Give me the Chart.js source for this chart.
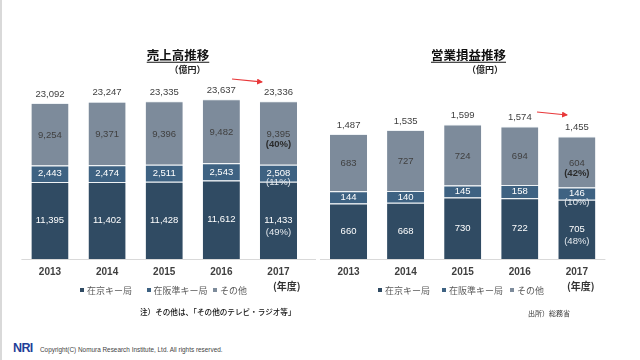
<!DOCTYPE html>
<html><head><meta charset="utf-8">
<script src="https://cdn.jsdelivr.net/npm/chart.js@4"></script>
<style>
html,body{margin:0;padding:0;background:#fff;}
#wrap{position:relative;width:640px;height:360px;overflow:hidden;background:#fff;}
canvas{position:absolute;top:0;}
.t{position:absolute;transform:translate(-50%,-50%);white-space:nowrap;line-height:1;}
.l{position:absolute;transform:translateY(-50%);white-space:nowrap;line-height:1;}
.jp{font-family:"Noto Sans CJK JP","Noto Sans",sans-serif;}
.sq{position:absolute;width:4px;height:4px;transform:translateY(-50%);}
</style></head>
<body><div id="wrap">
<div style="position:absolute;left:0;top:0;width:2px;height:360px;background:#d9d9d9;"></div>
<canvas id="c1" width="320" height="290" style="left:0"></canvas>
<canvas id="c2" width="320" height="290" style="left:320px"></canvas>

<div class="t jp" style="left:178px;top:55px;font-size:12.5px;font-weight:bold;color:#111;text-decoration:underline;text-underline-offset:2px;">売上高推移</div>
<div class="t jp" style="left:187.5px;top:69px;font-size:9px;font-weight:bold;color:#222;">（億円）</div>
<div class="t jp" style="left:468.5px;top:55px;font-size:12.5px;font-weight:bold;color:#111;text-decoration:underline;text-underline-offset:2px;">営業損益推移</div>
<div class="t jp" style="left:485px;top:69px;font-size:9px;font-weight:bold;color:#222;">（億円）</div>

<div id="legends"></div>

<div class="l jp" style="left:273px;top:286px;font-size:10px;font-weight:bold;color:#333;">(年度)</div>
<div class="l jp" style="left:567px;top:286px;font-size:10px;font-weight:bold;color:#333;">(年度)</div>

<div class="l jp" style="left:140px;top:312px;font-size:7.6px;font-weight:500;color:#111;">注）その他は、「その他のテレビ・ラジオ等」</div>
<div class="l jp" style="left:528px;top:313px;font-size:7px;color:#333;">出所）総務省</div>

<div class="l" style="left:13px;top:347.5px;font-family:'Liberation Sans',Arial,sans-serif;font-size:12.5px;font-weight:bold;color:#1f3f99;letter-spacing:-0.6px;">NRI</div>
<div class="l" style="left:40px;top:350px;font-family:'Liberation Sans',Arial,sans-serif;font-size:6.4px;color:#444;">Copyright(C) Nomura Research Institute, Ltd. All rights reserved.</div>

<svg width="640" height="360" style="position:absolute;left:0;top:0;pointer-events:none;">
<defs><marker id="ah" markerWidth="6" markerHeight="6" refX="5" refY="3" orient="auto" markerUnits="userSpaceOnUse"><path d="M0,0 L6,3 L0,6 z" fill="#e8383a"/></marker></defs>
<line x1="232" y1="79" x2="262" y2="82" stroke="#e8383a" stroke-width="1.2" marker-end="url(#ah)"/>
<line x1="537" y1="112" x2="567" y2="115" stroke="#e8383a" stroke-width="1.2" marker-end="url(#ah)"/>
</svg>
</div>
<script>
// ---- data ----
const years = ['2013','2014','2015','2016','2017'];
const seriesNames = ['在京キー局','在阪準キー局','その他'];
const salesTokyo = [11395, 11402, 11428, 11612, 11433];
const salesOsaka = [2443, 2474, 2511, 2543, 2508];
const salesOther = [9254, 9371, 9396, 9482, 9395];
const salesTotal = [23092, 23247, 23335, 23637, 23336];
const salesShareTokyo = [null, null, null, null, '(49%)'];
const salesShareOsaka = [null, null, null, null, '(11%)'];
const salesShareOther = [null, null, null, null, '(40%)'];
const profitTokyo = [660, 668, 730, 722, 705];
const profitOsaka = [144, 140, 145, 158, 146];
const profitOther = [683, 727, 724, 694, 604];
const profitTotal = [1487, 1535, 1599, 1574, 1455];
const profitShareTokyo = [null, null, null, null, '(48%)'];
const profitShareOsaka = [null, null, null, null, '(10%)'];
const profitShareOther = [null, null, null, null, '(42%)'];

const colors = ['#304b63', '#3e6282', '#7d8b9b'];
const NUMF = '"Liberation Sans", Arial, sans-serif';
const fmt = v => v.toLocaleString('en-US');

const labelPlugin = {
  id: 'segLabels',
  afterDatasetsDraw(chart, args, opts) {
    const ctx = chart.ctx;
    ctx.save();
    ctx.textAlign = 'center';
    ctx.textBaseline = 'middle';
    chart.data.datasets.forEach((ds, di) => {
      const meta = chart.getDatasetMeta(di);
      meta.data.forEach((bar, i) => {
        const p = bar.getProps(['x', 'y', 'base'], true);
        const cy = (p.y + p.base) / 2;
        ctx.font = '9.5px ' + NUMF;
        ctx.fillStyle = di === 2 ? '#404040' : '#ffffff';
        ctx.fillText(fmt(ds.data[i]), p.x, cy + (di === 2 ? 1 : 0));
        const pct = opts.shares[di][i];
        if (pct) {
          ctx.font = (di === 2 ? 'bold ' : '') + '9.5px ' + NUMF;
          ctx.fillStyle = di === 2 ? '#2a2a2a' : '#e4e9ee';
          ctx.fillText(pct, p.x, cy + (di === 0 ? 12 : (di === 1 ? 9 : 11)));
        }
      });
    });
    const topMeta = chart.getDatasetMeta(chart.data.datasets.length - 1);
    ctx.font = '9.5px ' + NUMF;
    ctx.fillStyle = '#404040';
    topMeta.data.forEach((bar, i) => {
      const p = bar.getProps(['x', 'y'], true);
      ctx.fillText(fmt(opts.totals[i]), p.x, p.y - 9);
    });
    ctx.restore();
  }
};

const baselinePlugin = {
  id: 'baseline',
  afterDraw(chart, args, opts) {
    const a = chart.chartArea, ctx = chart.ctx;
    ctx.save();
    ctx.strokeStyle = '#d9d9d9';
    ctx.lineWidth = 1;
    ctx.beginPath();
    ctx.moveTo(a.left, a.bottom + 0.5);
    ctx.lineTo(a.right + (opts.extend || 0), a.bottom + 0.5);
    ctx.stroke();
    ctx.restore();
  }
};

function makeChart(id, vals, shares, totals, yMax, pad, extend) {
  return new Chart(document.getElementById(id), {
    type: 'bar',
    data: {
      labels: years,
      datasets: vals.map((v, k) => ({
        label: seriesNames[k],
        data: v,
        backgroundColor: colors[k],
        borderColor: '#eef2f5',
        borderWidth: {top: 1, left: 0, right: 0, bottom: 0},
        borderSkipped: false,
        barPercentage: 0.65,
        categoryPercentage: 1.0
      }))
    },
    options: {
      responsive: false,
      animation: false,
      devicePixelRatio: 1,
      layout: {padding: pad},
      scales: {
        x: {
          stacked: true,
          grid: {display: false, drawTicks: false},
          border: {display: false},
          ticks: {padding: 7, color: '#404040', font: {family: NUMF, size: 10, weight: 'bold'}},
          afterFit: s => { s.height = 31; }
        },
        y: {stacked: true, display: false, min: 0, max: yMax}
      },
      plugins: {
        legend: {display: false},
        tooltip: {enabled: false},
        segLabels: {shares: shares, totals: totals},
        baseline: {extend: extend}
      }
    },
    plugins: [labelPlugin, baselinePlugin]
  });
}

makeChart('c1', [salesTokyo, salesOsaka, salesOther],
  [salesShareTokyo, salesShareOsaka, salesShareOther], salesTotal,
  26480, {left: 21.4, right: 13, top: 80, bottom: 0}, 9);
makeChart('c2', [profitTokyo, profitOsaka, profitOther],
  [profitShareTokyo, profitShareOsaka, profitShareOther], profitTotal,
  2128, {left: 0, right: 34.6, top: 80, bottom: 0}, 0);

// HTML legends
const legendPos = [[80, 146.5, 213], [378, 442, 510]];
const lg = document.getElementById('legends');
legendPos.forEach(xs => {
  xs.forEach((x, k) => {
    const s = document.createElement('div');
    s.className = 'sq';
    s.style.left = x + 'px'; s.style.top = '290px'; s.style.background = colors[k];
    lg.appendChild(s);
    const t = document.createElement('div');
    t.className = 'l jp';
    t.style.left = (x + 7) + 'px'; t.style.top = '290px';
    t.style.fontSize = '9px'; t.style.color = '#595959';
    t.textContent = seriesNames[k];
    lg.appendChild(t);
  });
});
</script>
</body></html>
